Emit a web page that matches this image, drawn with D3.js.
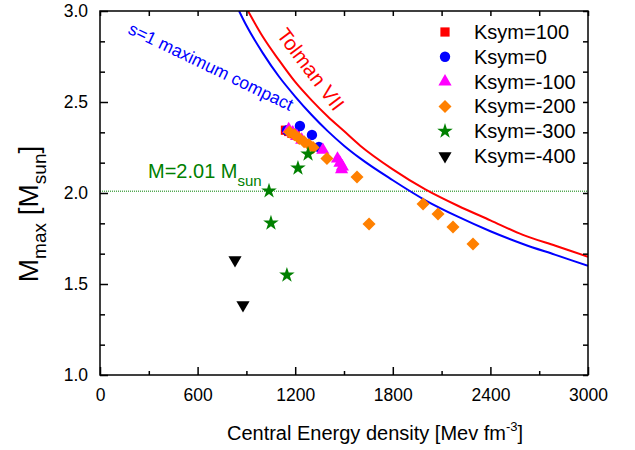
<!DOCTYPE html>
<html>
<head>
<meta charset="utf-8">
<script src="https://cdn.jsdelivr.net/npm/d3@7"></script>
<style>
  html, body { margin: 0; padding: 0; background: #fff; }
  svg { display: block; font-family: "Liberation Sans", Arial, sans-serif; }
</style>
</head>
<body>
<svg id="chart" width="635" height="450"></svg>
<script>
// Maximum mass vs central energy density for different Ksym values
const ksym100 = [[1140, 2.345], [1160, 2.338], [1180, 2.328], [1200, 2.318]];
const ksym0 = [[1150, 2.345], [1229, 2.368], [1303, 2.319], [1346, 2.253]];
const ksymM100 = [[1160, 2.350], [1185, 2.332], [1210, 2.312], [1240, 2.292],
                  [1370, 2.236], [1460, 2.188], [1475, 2.165], [1490, 2.145], [1485, 2.130]];
const ksymM200 = [[1165, 2.335], [1195, 2.320], [1225, 2.300], [1255, 2.282],
                  [1285, 2.265], [1310, 2.250], [1395, 2.190], [1580, 2.088],
                  [1654, 1.830], [1986, 1.940], [2078, 1.885], [2170, 1.813], [2293, 1.720]];
const ksymM300 = [[1039, 2.011], [1051, 1.835], [1149, 1.549], [1217, 2.137], [1279, 2.214]];
const ksymM400 = [[830, 1.632], [879, 1.385]];

// Limiting curves
const maxCompact = [[855, 3.00], [900, 2.92], [1000, 2.77], [1100, 2.64], [1200, 2.53],
                    [1300, 2.43], [1400, 2.34], [1500, 2.26], [1600, 2.19], [1800, 2.07],
                    [2000, 1.96], [2200, 1.87], [2400, 1.79], [2600, 1.72], [2800, 1.66], [3000, 1.60]];
const tolmanVII = [[910, 3.00], [1000, 2.86], [1100, 2.73], [1200, 2.61], [1300, 2.51],
                   [1400, 2.42], [1500, 2.34], [1600, 2.26], [1800, 2.13], [2000, 2.02],
                   [2200, 1.93], [2400, 1.85], [2600, 1.77], [2800, 1.71], [3000, 1.65]];
const observedMass = 2.01;

const xTicks = [0, 600, 1200, 1800, 2400, 3000];
const yTicks = [1.0, 1.5, 2.0, 2.5, 3.0];

const series = [
  { name: "Ksym=100", data: ksym100, color: "#ff0000", symbol: d3.symbolSquare, size: 85, rot: 0 },
  { name: "Ksym=0", data: ksym0, color: "#0000ff", symbol: d3.symbolCircle, size: 85, rot: 0 },
  { name: "Ksym=-100", data: ksymM100, color: "#ff00ff", symbol: d3.symbolTriangle, size: 75, rot: 0 },
  { name: "Ksym=-200", data: ksymM200, color: "#ff8000", symbol: d3.symbolSquare, size: 85, rot: 45 },
  { name: "Ksym=-300", data: ksymM300, color: "#008000", symbol: d3.symbolStar, size: 75, rot: 0 },
  { name: "Ksym=-400", data: ksymM400, color: "#000000", symbol: d3.symbolTriangle, size: 75, rot: 180 }
];

const svg = d3.select("#chart");
const m = { left: 100, top: 11, right: 47, bottom: 75 };
const W = 635 - m.left - m.right, H = 450 - m.top - m.bottom;

const x = d3.scaleLinear().domain([0, 3000]).range([0, W]);
const y = d3.scaleLinear().domain([1.0, 3.0]).range([H, 0]);

const g = svg.append("g").attr("transform", `translate(${m.left},${m.top})`);

svg.append("defs").append("clipPath").attr("id", "plotclip")
  .append("rect").attr("width", W).attr("height", H);

// Observational bound
g.append("line")
  .attr("x1", 0).attr("x2", W)
  .attr("y1", y(observedMass)).attr("y2", y(observedMass))
  .attr("stroke", "#008000").attr("stroke-width", 1)
  .attr("stroke-dasharray", "1,1");

// Limiting curves
const line = d3.line().x(d => x(d[0])).y(d => y(d[1])).curve(d3.curveMonotoneX);
const curves = g.append("g").attr("clip-path", "url(#plotclip)");
curves.append("path").datum(tolmanVII).attr("d", line)
  .attr("fill", "none").attr("stroke", "#ff0000").attr("stroke-width", 2);
curves.append("path").datum(maxCompact).attr("d", line)
  .attr("fill", "none").attr("stroke", "#0000ff").attr("stroke-width", 2);

// Markers
series.forEach(s => {
  const sym = d3.symbol().type(s.symbol).size(s.size);
  g.append("g").selectAll("path").data(s.data).join("path")
    .attr("d", sym)
    .attr("transform", d => `translate(${x(d[0])},${y(d[1])}) rotate(${s.rot})`)
    .attr("fill", s.color);
});

// Axes: ticks point inward on all four sides
const xMinor = d3.range(300, 3000, 600);
const yMinor = [];
for (let i = 0; i < yTicks.length - 1; i++) {
  yMinor.push(yTicks[i] + 0.5 / 3, yTicks[i] + 1.0 / 3);
}

function styleAxis(sel) {
  sel.select(".domain").remove();
  sel.selectAll("line").attr("stroke", "#000").attr("stroke-width", 1.5);
  sel.selectAll("text").attr("fill", "#000").style("font-size", "17.5px");
}

g.append("g").attr("transform", `translate(0,${H})`)
  .call(d3.axisBottom(x).tickValues(xTicks).tickFormat(d3.format("d")).tickSizeInner(-8).tickPadding(14))
  .call(styleAxis);
g.append("g").attr("transform", `translate(0,${H})`)
  .call(d3.axisBottom(x).tickValues(xMinor).tickFormat("").tickSizeInner(-4))
  .call(styleAxis);
g.append("g")
  .call(d3.axisLeft(y).tickValues(yTicks).tickFormat(d3.format(".1f")).tickSizeInner(-8).tickPadding(12))
  .call(styleAxis);
g.append("g")
  .call(d3.axisLeft(y).tickValues(yMinor).tickFormat("").tickSizeInner(-5))
  .call(styleAxis);
g.append("g")
  .call(d3.axisTop(x).tickValues(xTicks.concat(xMinor)).tickFormat("").tickSizeInner(-5))
  .call(styleAxis);
g.append("g").attr("transform", `translate(${W},0)`)
  .call(d3.axisRight(y).tickValues(yTicks.concat(yMinor)).tickFormat("").tickSizeInner(-5))
  .call(styleAxis);

// Frame
g.append("rect").attr("width", W).attr("height", H)
  .attr("fill", "none").attr("stroke", "#000").attr("stroke-width", 1.5);

// Axis titles
const xt = svg.append("text")
  .attr("x", m.left + W / 2 + 31).attr("y", 440)
  .attr("text-anchor", "middle").style("font-size", "20px").attr("fill", "#000");
xt.append("tspan").text("Central Energy density [Mev fm");
xt.append("tspan").attr("dy", -9).style("font-size", "13px").text("-3");
xt.append("tspan").attr("dy", 9).text("]");

const yt = svg.append("text")
  .attr("transform", `translate(38,214) rotate(-90)`)
  .attr("text-anchor", "middle").style("font-size", "28px").attr("fill", "#000");
yt.append("tspan").text("M");
yt.append("tspan").attr("dy", 8).style("font-size", "19px").text("max");
yt.append("tspan").attr("dy", -8).text(" [M");
yt.append("tspan").attr("dy", 8).style("font-size", "19px").text("sun");
yt.append("tspan").attr("dy", -8).text("]");

// Curve annotations
svg.append("text")
  .attr("transform", "translate(127,33) rotate(25.7)")
  .style("font-size", "17.5px").attr("fill", "#0000ff")
  .text("s=1 maximum compact");
svg.append("text")
  .attr("transform", "translate(276,35) rotate(53)")
  .style("font-size", "20.5px").attr("fill", "#ff0000")
  .text("Tolman VII");

const mt = svg.append("text")
  .attr("x", 148).attr("y", 178)
  .style("font-size", "20px").attr("fill", "#008000");
mt.append("tspan").text("M=2.01 M");
mt.append("tspan").attr("dy", 8).style("font-size", "15px").text("sun");

// Legend
const legend = svg.append("g").attr("transform", "translate(445,32)");
series.forEach((s, i) => {
  const row = legend.append("g").attr("transform", `translate(0,${i * 24.8})`);
  row.append("path")
    .attr("d", d3.symbol().type(s.symbol).size(s.size)())
    .attr("transform", `rotate(${s.rot})`)
    .attr("fill", s.color);
  row.append("text").attr("x", 29).attr("y", 7)
    .style("font-size", "20px").attr("fill", "#000").text(s.name);
});
</script>
</body>
</html>
